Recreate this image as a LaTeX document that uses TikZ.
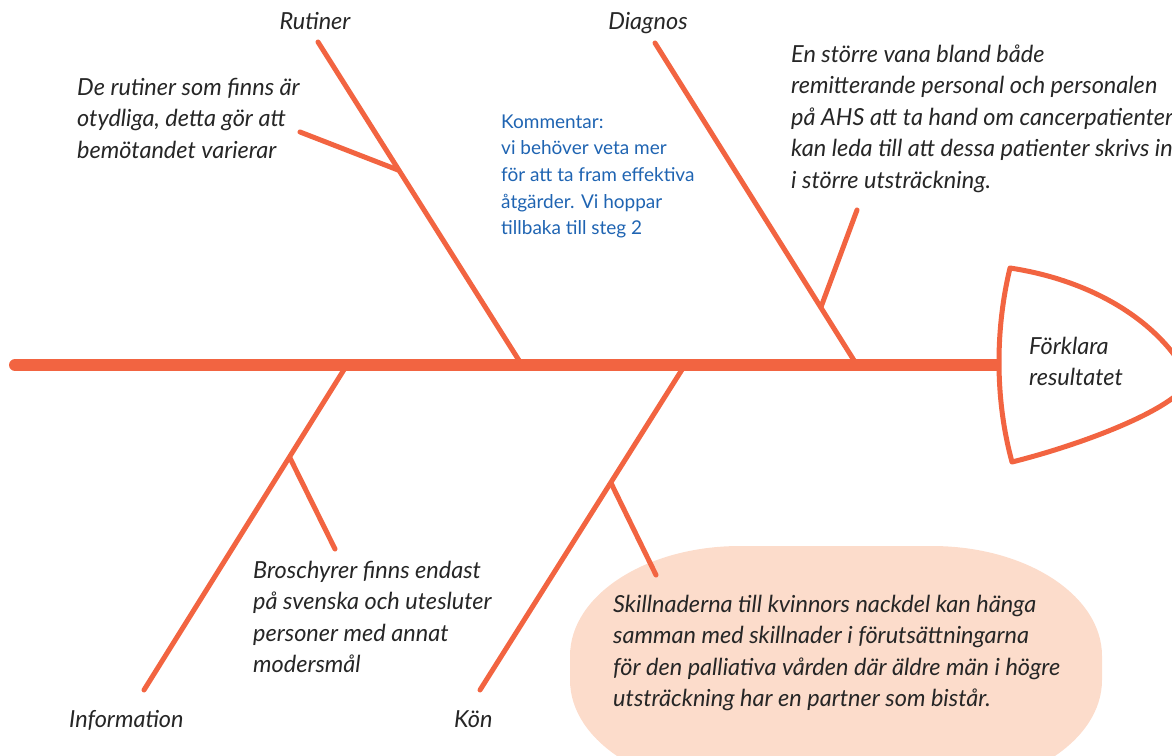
\documentclass[tikz,border=0pt]{standalone}
\usepackage{fontspec}
\setmainfont{Lato}
\newfontfamily\handfont{Lato}
\newfontfamily\bluefont{Lato}
\definecolor{fishorange}{HTML}{F26441}
\definecolor{blobpink}{HTML}{FCDCCB}
\definecolor{noteblue}{HTML}{1F64B2}
\newcommand{\lns}[1]{\begin{tabular}[t]{@{}l@{}}#1\end{tabular}}
\tikzset{
  bone/.style={draw=fishorange, line width=5pt, line cap=round},
  spine/.style={draw=fishorange, line width=12pt, line cap=round},
  hand/.style={inner sep=0pt, anchor=base west, font=\handfont\itshape\fontsize{23.5}{31.5}\selectfont, text=black!85},
  handc/.style={inner sep=0pt, anchor=base, font=\handfont\itshape\fontsize{23.5}{31.5}\selectfont, text=black!85},
  note/.style={inner sep=0pt, anchor=base west, font=\bluefont\fontsize{19}{26.7}\selectfont, text=noteblue}
}
\begin{document}
\begin{tikzpicture}[x=1pt,y=1pt]
\useasboundingbox (0,0) rectangle (1172,-755);
\clip (0,0) rectangle (1172,-755);
% pink blob
\fill[blobpink] (740,-546) -- (932,-546)
  arc[start angle=90, end angle=0, x radius=170, y radius=110] -- (1102,-680)
  arc[start angle=0, end angle=-90, x radius=170, y radius=110] -- (740,-790)
  arc[start angle=-90, end angle=-180, x radius=170, y radius=110] -- (570,-656)
  arc[start angle=180, end angle=90, x radius=170, y radius=110] -- cycle;
% coordinates
\coordinate (tail) at (15,-365);
\coordinate (neck) at (997,-365);
\coordinate (rutTop) at (318,-42);
\coordinate (rutBase) at (520,-362);
\coordinate (rutSubA) at (300,-132);
\coordinate (rutSubB) at (398,-170);
\coordinate (diaTop) at (655,-43);
\coordinate (diaBase) at (855,-362);
\coordinate (diaSubA) at (857,-210);
\coordinate (diaSubB) at (821,-307);
\coordinate (infBase) at (345,-368);
\coordinate (infEnd) at (144,-690);
\coordinate (infSubA) at (290,-458);
\coordinate (infSubB) at (335,-549);
\coordinate (konBase) at (683,-368);
\coordinate (konEnd) at (480,-690);
\coordinate (konSubA) at (611,-483);
\coordinate (konSubB) at (656,-575);
% bones
\draw[spine] (tail) -- (neck);
\draw[bone] (rutTop) -- (rutBase);
\draw[bone] (rutSubA) -- (rutSubB);
\draw[bone] (diaTop) -- (diaBase);
\draw[bone] (diaSubA) -- (diaSubB);
\draw[bone] (infBase) -- (infEnd);
\draw[bone] (infSubA) -- (infSubB);
\draw[bone] (konBase) -- (konEnd);
\draw[bone] (konSubA) -- (konSubB);
% head
\draw[fishorange, line width=5pt, line join=round, fill=white]
  (1010,-268) .. controls (1090,-280) and (1160,-320) .. (1190,-380)
  .. controls (1175,-410) and (1080,-445) .. (1012,-462)
  .. controls (995,-400) and (995,-330) .. cycle;
% texts
\node[handc] (rutLbl) at (315,-29) {Rutiner};
\node[handc] (diaLbl) at (648,-29) {Diagnos};
\node[hand] (rutTxt) at (77,-95) {\lns{De rutiner som finns är\\otydliga, detta gör att\\bemötandet varierar}};
\node[note] (kom) at (501,-128) {\lns{Kommentar:\\vi behöver veta mer\\för att ta fram effektiva\\åtgärder. Vi hoppar\\tillbaka till steg 2}};
\node[hand] (diaTxt) at (791,-62) {\lns{En större vana bland både\\remitterande personal och personalen\\på AHS att ta hand om cancerpatienter\\kan leda till att dessa patienter skrivs in\\i större utsträckning.}};
\node[hand] (headTxt) at (1029,-354) {\lns{Förklara\\resultatet}};
\node[hand] (infTxt) at (253,-578) {\lns{Broschyrer finns endast\\på svenska och utesluter\\personer med annat\\modersmål}};
\node[hand] (konTxt) at (613,-612) {\lns{Skillnaderna till kvinnors nackdel kan hänga\\samman med skillnader i förutsättningarna\\för den palliativa vården där äldre män i högre\\utsträckning har en partner som bistår.}};
\node[hand] (infLbl) at (69,-727) {Information};
\node[hand] (konLbl) at (454,-727) {Kön};
\end{tikzpicture}
\end{document}
